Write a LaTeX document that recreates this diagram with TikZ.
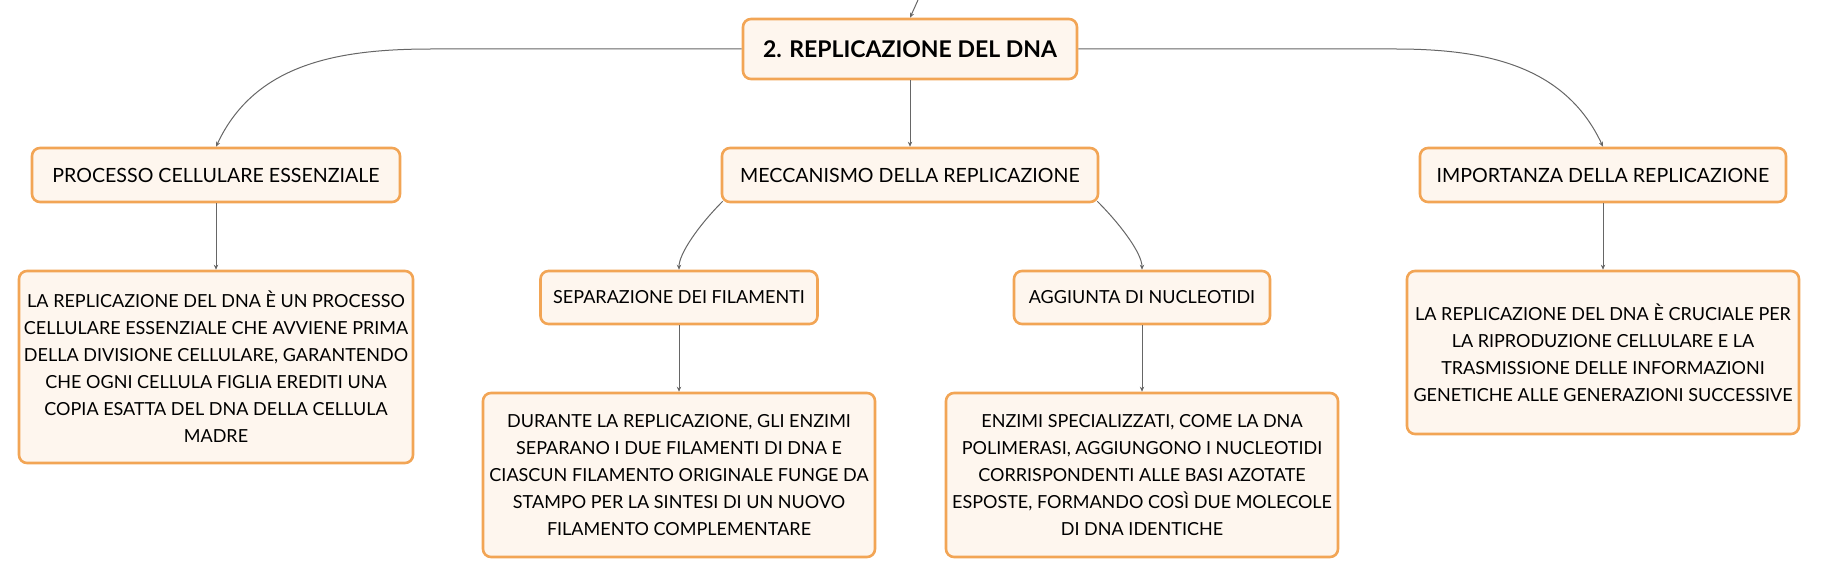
\documentclass[tikz,border=0pt]{standalone}
\usepackage{fontspec}
\setmainfont{Lato}
\usepackage{xcolor}
\usepackage{tikz}
\usetikzlibrary{arrows.meta}

\definecolor{boxfill}{HTML}{FEF6EE}
\definecolor{boxline}{HTML}{F2A555}
\definecolor{linkgray}{HTML}{666666}

\tikzset{
  topic/.style={draw=boxline, fill=boxfill, line width=1.3pt, rounded corners=4pt,
    align=center, inner sep=0pt, text=black},
  roottopic/.style={topic, font=\fontsize{11.5}{14}\selectfont\bfseries},
  maintopic/.style={topic, font=\fontsize{9.8}{13}\selectfont},
  subtopic/.style={topic, font=\fontsize{9}{13.5}\selectfont},
  link/.style={draw=linkgray, line width=0.5pt, -{Stealth[length=2.5pt,width=2.2pt]}}
}

\begin{document}
\begin{tikzpicture}[x=0.5pt,y=0.5pt]
  \useasboundingbox (0,0) rectangle (1821,-577);

  % Hauptthema
  \node[roottopic, minimum width=167pt, minimum height=30pt] (replicazione) at (910,-49) {2. REPLICAZIONE DEL DNA};
  \coordinate (sopra) at (918,0);

  % zweite Ebene
  \node[maintopic, minimum width=184pt, minimum height=27pt] (processo) at (216,-175) {PROCESSO CELLULARE ESSENZIALE};
  \node[maintopic, minimum width=188pt, minimum height=27pt] (meccanismo) at (910,-175) {MECCANISMO DELLA REPLICAZIONE};
  \node[maintopic, minimum width=183pt, minimum height=27pt] (importanza) at (1603,-175) {IMPORTANZA DELLA REPLICAZIONE};

  % dritte Ebene
  \node[subtopic, minimum width=138.5pt, minimum height=26.5pt] (separazione) at (679,-297.5) {SEPARAZIONE DEI FILAMENTI};
  \node[subtopic, minimum width=128pt, minimum height=26.5pt] (aggiunta) at (1142,-297.5) {AGGIUNTA DI NUCLEOTIDI};

  % Texte
  \node[subtopic, minimum width=197pt, minimum height=96pt] (processoTesto) at (216,-367) {%
    LA REPLICAZIONE DEL DNA È UN PROCESSO\\
    CELLULARE ESSENZIALE CHE AVVIENE PRIMA\\
    DELLA DIVISIONE CELLULARE, GARANTENDO\\
    CHE OGNI CELLULA FIGLIA EREDITI UNA\\
    COPIA ESATTA DEL DNA DELLA CELLULA\\
    MADRE};
  \node[subtopic, minimum width=196pt, minimum height=82pt] (separazioneTesto) at (679,-475) {%
    DURANTE LA REPLICAZIONE, GLI ENZIMI\\
    SEPARANO I DUE FILAMENTI DI DNA E\\
    CIASCUN FILAMENTO ORIGINALE FUNGE DA\\
    STAMPO PER LA SINTESI DI UN NUOVO\\
    FILAMENTO COMPLEMENTARE};
  \node[subtopic, minimum width=196pt, minimum height=82pt] (aggiuntaTesto) at (1142,-475) {%
    ENZIMI SPECIALIZZATI, COME LA DNA\\
    POLIMERASI, AGGIUNGONO I NUCLEOTIDI\\
    CORRISPONDENTI ALLE BASI AZOTATE\\
    ESPOSTE, FORMANDO COSÌ DUE MOLECOLE\\
    DI DNA IDENTICHE};
  \node[subtopic, minimum width=196pt, minimum height=81.5pt] (importanzaTesto) at (1603,-352.5) {%
    LA REPLICAZIONE DEL DNA È CRUCIALE PER\\
    LA RIPRODUZIONE CELLULARE E LA\\
    TRASMISSIONE DELLE INFORMAZIONI\\
    GENETICHE ALLE GENERAZIONI SUCCESSIVE};

  % Verbindungen
  \draw[link] (sopra) -- (replicazione.north);
  \draw[link] (replicazione.west) -- ++(-310,0) to[out=180,in=65] (processo.north);
  \draw[link] (replicazione.east) -- ++(317,0) to[out=0,in=115] (importanza.north);
  \draw[link] (replicazione.south) -- (meccanismo.north);
  \draw[link] ([xshift=1pt,yshift=1pt]meccanismo.south west) to[out=225,in=90,out distance=17pt,in distance=8pt] (separazione.north);
  \draw[link] ([xshift=-1pt,yshift=1pt]meccanismo.south east) to[out=-45,in=90,out distance=17pt,in distance=8pt] (aggiunta.north);
  \draw[link] (processo.south) -- (processoTesto.north);
  \draw[link] (separazione.south) -- (separazioneTesto.north);
  \draw[link] (aggiunta.south) -- (aggiuntaTesto.north);
  \draw[link] (importanza.south) -- (importanzaTesto.north);
\end{tikzpicture}
\end{document}
